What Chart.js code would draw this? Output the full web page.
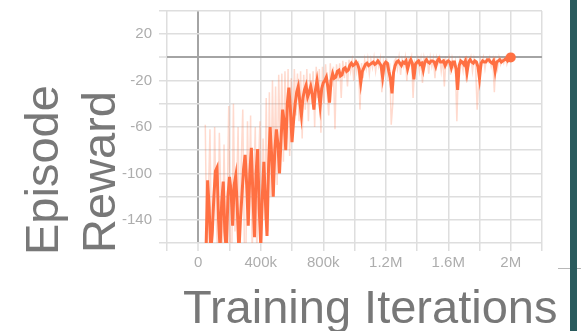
<!DOCTYPE html>
<html>
<head>
<meta charset="utf-8">
<script src="https://cdn.jsdelivr.net/npm/chart.js@4"></script>
<style>
  html, body { margin: 0; padding: 0; background: #fff; }
  #wrap { position: relative; width: 581px; height: 331px; overflow: hidden; }
  #bar { position: absolute; left: 570px; top: 0; width: 7px; height: 331px; background: #2a5c5e; }
  #tick { position: absolute; left: 558px; top: 268px; width: 23px; height: 1px; background: #b8b8b8; }
</style>
</head>
<body>
<div id="wrap">
  <canvas id="chart" width="581" height="331"></canvas>
  <div id="tick"></div>
  <div id="bar"></div>
</div>
<script>
  // training steps (thousands) and smoothed episode reward
  const smoothSteps = [
    50, 60, 70, 80, 90, 100, 110, 120, 130, 140,
    150, 160, 170, 180, 190, 200, 210, 220, 230, 240,
    250, 260, 270, 280, 290, 300, 310, 320, 330, 340,
    350, 360, 370, 380, 390, 400, 410, 420, 430, 440,
    450, 460, 470, 480, 490, 500, 510, 520, 530, 540,
    550, 560, 570, 580, 590, 600, 610, 620, 630, 640,
    650, 660, 670, 680, 690, 700, 710, 720, 730, 740,
    750, 760, 770, 780, 790, 800, 810, 820, 830, 840,
    850, 860, 870, 880, 890, 900, 910, 920, 930, 940,
    950, 960, 970, 980, 990, 1000, 1010, 1020, 1030, 1040,
    1050, 1060, 1070, 1080, 1090, 1100, 1110, 1120, 1130, 1140,
    1150, 1160, 1170, 1180, 1190, 1200, 1210, 1220, 1230, 1240,
    1250, 1260, 1270, 1280, 1290, 1300, 1310, 1320, 1330, 1340,
    1350, 1360, 1370, 1380, 1390, 1400, 1410, 1420, 1430, 1440,
    1450, 1460, 1470, 1480, 1490, 1500, 1510, 1520, 1530, 1540,
    1550, 1560, 1570, 1580, 1590, 1600, 1610, 1620, 1630, 1640,
    1650, 1660, 1670, 1680, 1690, 1700, 1710, 1720, 1730, 1740,
    1750, 1760, 1770, 1780, 1790, 1800, 1810, 1820, 1830, 1840,
    1850, 1860, 1870, 1880, 1890, 1900, 1910, 1920, 1930, 1940,
    1950, 1960, 1970, 1980, 1990, 2000];
  const smoothReward = [
    -165, -106, -130, -168, -150, -120, -98, -95, -140, -165,
    -125, -107, -150, -168, -120, -103, -115, -145, -110, -102,
    -130, -168, -140, -118, -96, -84, -110, -145, -100, -78,
    -120, -155, -100, -79, -130, -162, -120, -90, -125, -154,
    -95, -60, -85, -120, -80, -62, -75, -100, -70, -45,
    -55, -80, -40, -26, -45, -73, -55, -40, -30, -25,
    -38, -50, -35, -28, -24, -34, -30, -25, -32, -45,
    -28, -20, -30, -42, -27, -22, -20, -17, -26, -39,
    -20, -14, -18, -17, -12, -11, -16, -15, -10, -9,
    -12, -11, -7, -5, -7, -6, -4, -6, -10, -22,
    -12, -9, -6, -5, -7, -6, -5, -4, -6, -5,
    -3, -5, -7, -17, -6, -4, -5, -12, -18, -31,
    -13, -7, -4, -3, -5, -7, -4, -5, -3, -10,
    -5, -2, -5, -19, -6, -4, -3, -6, -5, -11,
    -4, -2, -4, -5, -3, -3, -4, -8, -3, -1,
    -4, -4, -3, -7, -4, -3, -4, -9, -4, -4,
    -10, -28, -7, -3, -4, -6, -3, -13, -4, -2,
    -4, -5, -3, -4, -8, -18, -5, -3, -4, -4,
    -2, -2, -4, -5, -3, -12, -4, -3, -2, -4,
    -3, -2, -1, -3, -1, 0];

  // raw (unsmoothed) episode reward
  const rawSteps = [
    45, 55, 65, 75, 85, 95, 105, 115, 125, 135,
    145, 155, 165, 175, 185, 195, 205, 215, 225, 235,
    245, 255, 265, 275, 285, 295, 305, 315, 325, 335,
    345, 355, 365, 375, 385, 395, 405, 415, 425, 435,
    445, 455, 465, 475, 485, 495, 505, 515, 525, 535,
    545, 555, 565, 575, 585, 595, 605, 615, 625, 635,
    645, 655, 665, 675, 685, 695, 705, 715, 725, 735,
    745, 755, 765, 775, 785, 795, 805, 815, 825, 835,
    845, 855, 865, 875, 885, 895, 905, 915, 925, 935,
    945, 955, 965, 975, 985, 995, 1005, 1015, 1025, 1035,
    1045, 1055, 1065, 1075, 1085, 1095, 1105, 1115, 1125, 1135,
    1145, 1155, 1165, 1175, 1185, 1195, 1205, 1215, 1225, 1235,
    1245, 1255, 1265, 1275, 1285, 1295, 1305, 1315, 1325, 1335,
    1345, 1355, 1365, 1375, 1385, 1395, 1405, 1415, 1425, 1435,
    1445, 1455, 1465, 1475, 1485, 1495, 1505, 1515, 1525, 1535,
    1545, 1555, 1565, 1575, 1585, 1595, 1605, 1615, 1625, 1635,
    1645, 1655, 1665, 1675, 1685, 1695, 1705, 1715, 1725, 1735,
    1745, 1755, 1765, 1775, 1785, 1795, 1805, 1815, 1825, 1835,
    1845, 1855, 1865, 1875, 1885, 1895, 1905, 1915, 1925, 1935,
    1945, 1955, 1965, 1975, 1985, 1995];
  const rawReward = [
    -58, -170, -120, -62, -170, -150, -60, -140, -170, -65,
    -120, -170, -75, -160, -130, -42, -165, -170, -40, -150,
    -120, -60, -170, -90, -45, -160, -170, -55, -130, -50,
    -170, -110, -60, -170, -95, -55, -170, -70, -140, -35,
    -150, -30, -120, -20, -100, -25, -110, -15, -80, -14,
    -90, -12, -70, -10, -85, -18, -60, -10, -50, -14,
    -55, -12, -70, -15, -45, -10, -55, -14, -40, -12,
    -60, -8, -35, -10, -65, -8, -40, -6, -30, -50,
    -5, -25, -8, -62, -6, -20, -5, -35, -3, -18,
    -4, -25, -2, -12, -3, -20, -1, -12, -3, -45,
    -5, -18, -2, -10, -1, -14, -2, -9, 0, -12,
    -2, -8, -1, -30, -4, -12, -1, -20, -5, -58,
    -40, -3, -1, -10, 0, -15, -2, -8, 0, -20,
    -2, -6, 0, -35, -4, -8, -1, -12, -2, -22,
    0, -6, -1, -14, 0, -8, -1, -18, 0, -5,
    0, -12, -1, -25, -2, -6, 0, -15, -1, -8,
    -3, -55, -10, -1, -5, -12, 0, -20, -2, -6,
    0, -12, -1, -8, -45, -20, -1, -6, 0, -10,
    -1, -4, 0, -8, -2, -30, -3, -10, 0, -6,
    -1, -5, 0, -6, -1, -2];

  const yLabels = [20, -20, -60, -100, -140];
  const xLabels = {0: '0', 400000: '400k', 800000: '800k', 1200000: '1.2M', 1600000: '1.6M', 2000000: '2M'};

  const toPoints = (steps, vals) => steps.map((s, i) => ({x: s * 1000, y: vals[i]}));
  const lastIdx = smoothSteps.length - 1;

  const axisTitles = {
    id: 'axisTitles',
    afterDraw(chart) {
      const c = chart.ctx;
      const a = chart.chartArea;
      c.save();
      c.fillStyle = '#787878';
      c.font = '47px "Liberation Sans", Arial, sans-serif';
      c.textBaseline = 'alphabetic';
      c.textAlign = 'left';
      c.fillText('Training Iterations', a.left + 16, 323);
      c.translate(58, 255);
      c.rotate(-Math.PI / 2);
      c.fillText('Episode', 0, 0);
      c.rotate(Math.PI / 2);
      c.translate(57, -2);
      c.rotate(-Math.PI / 2);
      c.fillText('Reward', 0, 0);
      c.restore();
    }
  };

  const gridColor = ctx => ctx.tick && ctx.tick.value === 0 ? '#a4a4a4' : '#dedede';
  const gridWidth = ctx => ctx.tick && ctx.tick.value === 0 ? 2 : 1.5;

  new Chart(document.getElementById('chart'), {
    type: 'line',
    data: {
      datasets: [
        {
          label: 'Raw',
          data: toPoints(rawSteps, rawReward),
          borderColor: 'rgba(255, 112, 67, 0.26)',
          borderWidth: 1.5,
          pointRadius: 0,
          tension: 0
        },
        {
          label: 'Smoothed',
          data: toPoints(smoothSteps, smoothReward),
          borderColor: '#ff7043',
          backgroundColor: '#ff7043',
          borderWidth: 3,
          pointRadius: ctx => ctx.dataIndex === lastIdx ? 5 : 0,
          pointBorderWidth: 0,
          tension: 0
        }
      ]
    },
    options: {
      responsive: false,
      animation: false,
      layout: { padding: { top: 11, right: 39, left: 0, bottom: 0 } },
      plugins: { legend: { display: false }, tooltip: { enabled: false } },
      scales: {
        x: {
          type: 'linear',
          min: -200000,
          max: 2200000,
          afterFit: s => { s.height = 88; s.paddingLeft = 0; s.paddingRight = 0; },
          border: { display: false },
          grid: { color: gridColor, lineWidth: gridWidth, tickLength: 8, tickColor: '#dedede', tickWidth: 1.5 },
          ticks: {
            stepSize: 200000,
            autoSkip: false,
            maxRotation: 0,
            padding: 3,
            color: '#adadad',
            font: { family: '"Liberation Sans", Arial, sans-serif', size: 15 },
            callback: v => xLabels[v] !== undefined ? xLabels[v] : ''
          }
        },
        y: {
          min: -160,
          max: 40,
          afterFit: s => { s.width = 167; s.paddingTop = 0; s.paddingBottom = 0; },
          border: { display: false },
          grid: { color: gridColor, lineWidth: gridWidth, tickLength: 8, tickColor: '#dedede', tickWidth: 1.5 },
          ticks: {
            stepSize: 20,
            autoSkip: false,
            padding: 7,
            color: '#adadad',
            font: { family: '"Liberation Sans", Arial, sans-serif', size: 15 },
            callback: v => yLabels.includes(v) ? String(v) : ''
          }
        }
      }
    },
    plugins: [axisTitles]
  });
</script>
</body>
</html>
